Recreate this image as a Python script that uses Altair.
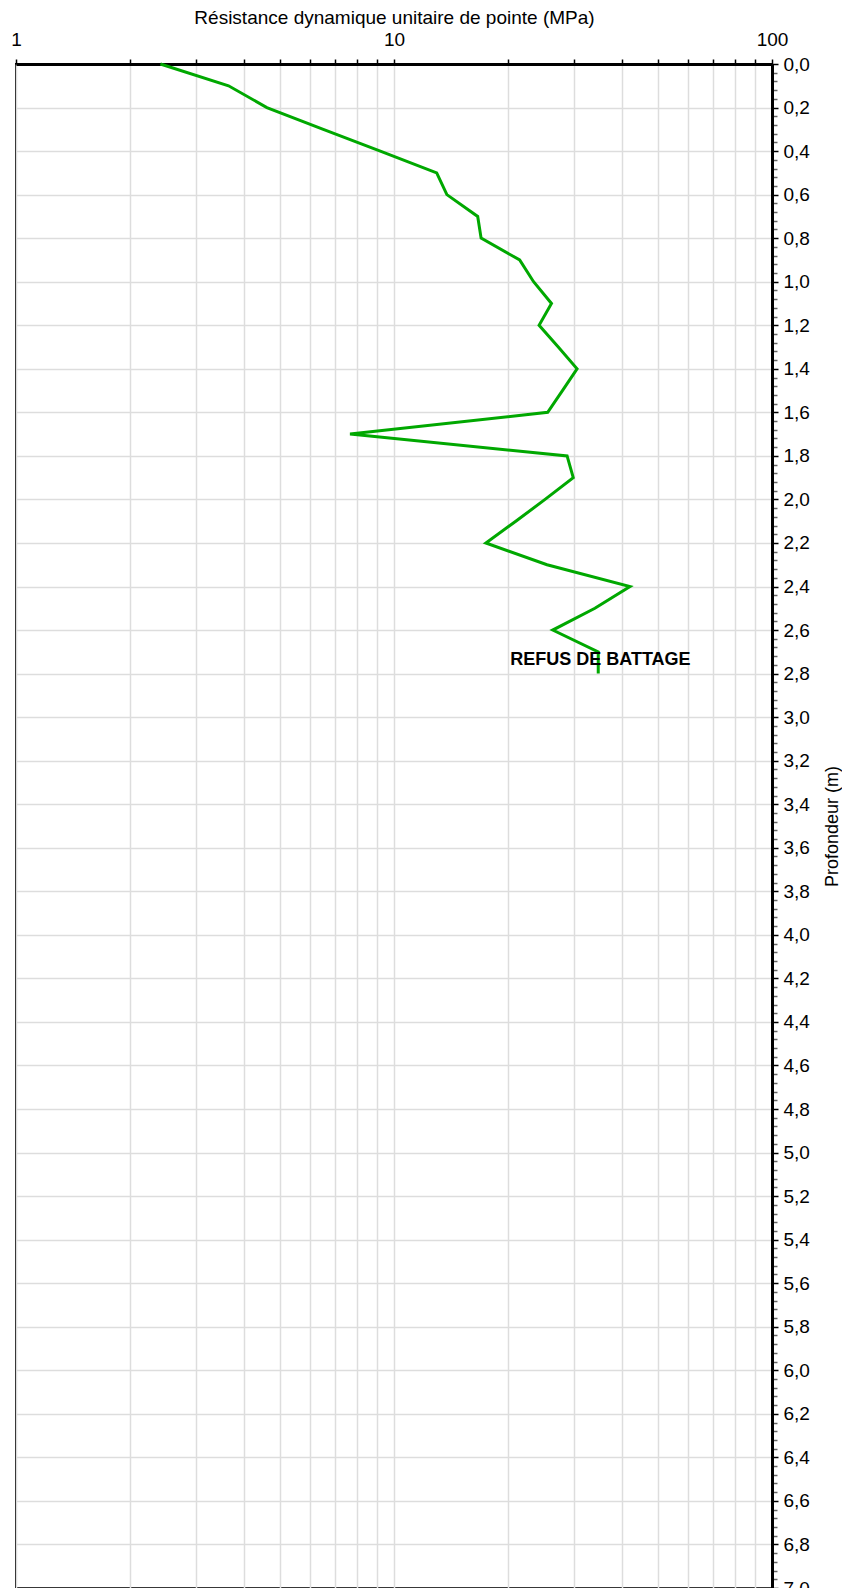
import altair as alt
import pandas as pd

# Depth (m) and dynamic point resistance (MPa)
depths = [0.0, 0.1, 0.2, 0.3, 0.4, 0.5, 0.6, 0.7, 0.8, 0.9, 1.0, 1.1, 1.2, 1.3,
          1.4, 1.5, 1.6, 1.7, 1.8, 1.9, 2.0, 2.1, 2.2, 2.3, 2.4, 2.5, 2.6, 2.7, 2.8]
resistance = [2.41, 3.65, 4.61, 6.5, 9.2, 12.97, 13.8, 16.65, 17.0, 21.5, 23.4,
              26.1, 24.2, 27.2, 30.5, 27.9, 25.5, 7.65, 28.7, 29.8, 25.1, 21.0,
              17.5, 25.4, 42.1, 34.0, 26.3, 34.7, 34.7]

# Annotation
note_text = ["REFUS DE BATTAGE"]
note_value = [20.3]
note_depth = [2.76]

# Axis ticks
x_ticks = [1, 2, 3, 4, 5, 6, 7, 8, 9, 10, 20, 30, 40, 50, 60, 70, 80, 90, 100]
x_labels = [1, 10, 100]
y_ticks = [round(i * 0.04, 2) for i in range(176)]  # major every 0.2, minor every 0.04

FONT = "Liberation Sans"
GREEN = "#00a800"

df = pd.DataFrame({"depth": depths, "value": resistance, "order": range(len(depths))})
notes = pd.DataFrame({"label": note_text, "value": note_value, "depth": note_depth})

major_test = "abs(datum.value*5 - round(datum.value*5)) < 0.01"

x_scale = alt.Scale(type="log", domain=[1, 100], nice=False)
y_scale = alt.Scale(domain=[0, 7], reverse=True, nice=False, zero=False)

x_axis = alt.Axis(
    orient="top",
    values=x_ticks,
    tickCount=100,
    labelExpr="(datum.value == 1 || datum.value == 10 || datum.value == 100) ? format(datum.value, 'd') : ''",
    title="Résistance dynamique unitaire de pointe (MPa)",
    titleFont=FONT, titleFontSize=19, titleFontWeight="normal", titleColor="#000000",
    titleBaseline="alphabetic", titleY=-41,
    labelFont=FONT, labelFontSize=19, labelColor="#000000",
    labelOverlap=False, labelFlush=False, labelPadding=10,
    tickSize=5, tickColor="#000000", tickWidth=1.5,
    domainColor="#000000", domainWidth=3,
    grid=True, gridColor="#dddddd", gridWidth=1.5,
)

y_axis = alt.Axis(
    orient="right",
    values=y_ticks,
    tickCount=500,
    labelExpr=major_test + " ? replace(format(datum.value, '.1f'), '.', ',') : ''",
    title="Profondeur (m)",
    titleFont=FONT, titleFontSize=18, titleFontWeight="normal", titleColor="#000000",
    titleAngle=270, titleX=60, titleY=762, titleAlign="center", titleBaseline="middle",
    labelFont=FONT, labelFontSize=19, labelColor="#000000",
    labelOverlap=False, labelFlush=False, labelPadding=5, labelBaseline="middle",
    tickSize={"condition": {"test": major_test, "value": 6}, "value": 5},
    tickColor={"condition": {"test": major_test, "value": "#000000"}, "value": "#666666"},
    tickWidth=1.5,
    domainColor="#000000", domainWidth=3,
    grid=True, gridColor="#dddddd", gridWidth=1.5,
    gridOpacity={"condition": {"test": major_test, "value": 1}, "value": 0},
)

line = alt.Chart(df).mark_line(color=GREEN, strokeWidth=3).encode(
    x=alt.X("value:Q", scale=x_scale, axis=x_axis),
    y=alt.Y("depth:Q", scale=y_scale, axis=y_axis),
    order="order:Q",
)

text = alt.Chart(notes).mark_text(
    align="left", baseline="alphabetic", font=FONT, fontSize=18,
    fontWeight="bold", color="#000000",
).encode(
    x=alt.X("value:Q", scale=x_scale),
    y=alt.Y("depth:Q", scale=y_scale),
    text="label:N",
)

chart = alt.layer(line, text).properties(
    width=756,
    height=1524,
    autosize=alt.AutoSizeParams(type="none"),
    padding={"left": 8, "top": 56, "right": 70, "bottom": 0},
    background="#ffffff",
).configure_view(stroke="#000000", strokeWidth=2)

chart.save("out.html", embed_options={"renderer": "svg", "actions": False})
